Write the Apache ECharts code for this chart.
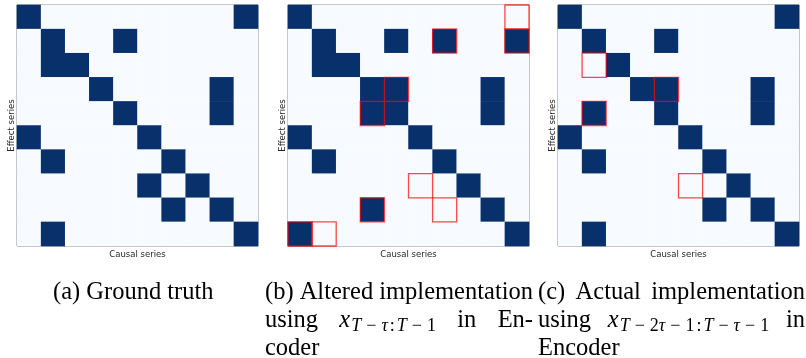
<!DOCTYPE html>
<html>
<head>
<meta charset="utf-8">
<script src="https://cdn.jsdelivr.net/npm/echarts@6/dist/echarts.min.js"></script>
<style>
  html, body { margin: 0; padding: 0; background: #ffffff; }
  #chart { width: 806px; height: 358px; }
</style>
</head>
<body>
<div id="chart"></div>
<script>
// Series indices shared by both axes (10 time series)
const seriesIds = ['0', '1', '2', '3', '4', '5', '6', '7', '8', '9'];

// Causal adjacency matrices: row = effect series, column = causal series
const groundTruth = [
  [1,0,0,0,0,0,0,0,0,1],
  [0,1,0,0,1,0,0,0,0,0],
  [0,1,1,0,0,0,0,0,0,0],
  [0,0,0,1,0,0,0,0,1,0],
  [0,0,0,0,1,0,0,0,1,0],
  [1,0,0,0,0,1,0,0,0,0],
  [0,1,0,0,0,0,1,0,0,0],
  [0,0,0,0,0,1,0,1,0,0],
  [0,0,0,0,0,0,1,0,1,0],
  [0,1,0,0,0,0,0,0,0,1]
];
const alteredResult = [
  [1,0,0,0,0,0,0,0,0,0],
  [0,1,0,0,1,0,1,0,0,1],
  [0,1,1,0,0,0,0,0,0,0],
  [0,0,0,1,1,0,0,0,1,0],
  [0,0,0,1,1,0,0,0,1,0],
  [1,0,0,0,0,1,0,0,0,0],
  [0,1,0,0,0,0,1,0,0,0],
  [0,0,0,0,0,0,0,1,0,0],
  [0,0,0,1,0,0,0,0,1,0],
  [1,0,0,0,0,0,0,0,0,1]
];
const actualResult = [
  [1,0,0,0,0,0,0,0,0,1],
  [0,1,0,0,1,0,0,0,0,0],
  [0,0,1,0,0,0,0,0,0,0],
  [0,0,0,1,1,0,0,0,1,0],
  [0,1,0,0,1,0,0,0,1,0],
  [1,0,0,0,0,1,0,0,0,0],
  [0,1,0,0,0,0,1,0,0,0],
  [0,0,0,0,0,0,0,1,0,0],
  [0,0,0,0,0,0,1,0,1,0],
  [0,1,0,0,0,0,0,0,0,1]
];

// Cells that differ from the ground truth, as [row, column]
const alteredErrors = [[0,9],[1,6],[1,9],[3,4],[4,3],[7,5],[8,3],[8,6],[9,0],[9,1]];
const actualErrors = [[2,1],[3,4],[4,1],[7,5]];

const panels = [
  { matrix: groundTruth, errors: [] },
  { matrix: alteredResult, errors: alteredErrors },
  { matrix: actualResult, errors: actualErrors }
];

const panelLeft = [17, 288, 558];
const panelTop = 5;
const panelSize = 241;

const LIGHT = '#f7fbff';
const DARK = '#08306b';
const EDGE = 'rgba(255, 0, 0, 0.72)';
const SANS = "'DejaVu Sans', sans-serif";
const SERIF = "'Liberation Serif', 'Times New Roman', serif";

const grids = [], xAxes = [], yAxes = [], series = [];
panels.forEach((p, i) => {
  grids.push({
    left: panelLeft[i], top: panelTop, width: panelSize, height: panelSize,
    show: true, borderColor: '#707070', borderWidth: 1, backgroundColor: 'transparent',
    outerBoundsMode: 'none', containLabel: false
  });
  xAxes.push({
    type: 'category', gridIndex: i, data: seriesIds,
    axisLine: { show: false }, axisTick: { show: false }, axisLabel: { show: false },
    splitLine: { show: false },
    name: 'Causal series', nameLocation: 'middle', nameGap: 4,
    nameTextStyle: { fontFamily: SANS, fontSize: 8.5, color: '#262626' }
  });
  yAxes.push({
    type: 'category', gridIndex: i, data: seriesIds, inverse: true,
    axisLine: { show: false }, axisTick: { show: false }, axisLabel: { show: false },
    splitLine: { show: false },
    name: 'Effect series', nameLocation: 'middle', nameGap: 1, nameRotate: 90,
    nameTextStyle: { fontFamily: SANS, fontSize: 8.5, color: '#262626' }
  });
  const cells = [];
  p.matrix.forEach((row, r) => row.forEach((v, c) => cells.push([c, r, v])));
  series.push({
    type: 'heatmap', xAxisIndex: i, yAxisIndex: i, data: cells,
    itemStyle: { borderWidth: 0 }, emphasis: { disabled: true }, z: 1
  });
});

// Red outlines marking the cells that differ from the ground truth
panels.forEach((p, i) => {
  if (!p.errors.length) return;
  series.push({
    type: 'custom', xAxisIndex: i, yAxisIndex: i, z: 5, silent: true,
    data: p.errors.map(([r, c]) => [c, r]),
    encode: { x: 0, y: 1 },
    renderItem: (params, api) => {
      const center = api.coord([api.value(0), api.value(1)]);
      const size = api.size([1, 1]);
      return {
        type: 'rect',
        shape: { x: center[0] - size[0] / 2, y: center[1] - size[1] / 2, width: size[0], height: size[1] },
        style: { fill: 'none', stroke: EDGE, lineWidth: 1.3 }
      };
    }
  });
});

// ---- Sub-captions (justified lines, Times-like serif) ----
const CAP_SIZE = 24.5;
const SUB_SIZE = 18;
const OP_PAD = 5;
const REL_PAD = 2;
const measureCtx = document.createElement('canvas').getContext('2d');
function textWidth(text, font) { measureCtx.font = font; return measureCtx.measureText(text).width; }

const capFont = CAP_SIZE + 'px ' + SERIF;
const mathFont = 'italic ' + CAP_SIZE + 'px ' + SERIF;
const subItalic = 'italic ' + SUB_SIZE + 'px ' + SERIF;
const subUpright = SUB_SIZE + 'px ' + SERIF;

// subscript tokens: [text, kind] with kind i = italic symbol, r = upright, o = binary operator, c = colon
const subscriptB = [['T','i'],['−','o'],['τ','i'],[':','c'],['T','i'],['−','o'],['1','r']];
const subscriptC = [['T','i'],['−','o'],['2','r'],['τ','i'],['−','o'],['1','r'],[':','c'],
                    ['T','i'],['−','o'],['τ','i'],['−','o'],['1','r']];

function tokenWidth(t) {
  if (t[1] === 'i') return textWidth(t[0], subItalic);
  if (t[1] === 'o') return textWidth(t[0], subUpright) + 2 * OP_PAD;
  if (t[1] === 'c') return textWidth(t[0], subUpright) + 2 * REL_PAD;
  return textWidth(t[0], subUpright);
}
function wordWidth(w) {
  if (typeof w === 'string') return textWidth(w, capFont);
  return textWidth('x', mathFont) + 1 + w.sub.reduce((s, t) => s + tokenWidth(t), 0);
}

const graphics = [];
function place(w, x, baseline) {
  const mid = baseline - 0.3 * CAP_SIZE;
  if (typeof w === 'string') {
    graphics.push({ type: 'text', x: x, y: mid,
      style: { text: w, font: capFont, fill: '#000', align: 'left', verticalAlign: 'middle' } });
    return;
  }
  graphics.push({ type: 'text', x: x, y: mid,
    style: { text: 'x', font: mathFont, fill: '#000', align: 'left', verticalAlign: 'middle' } });
  const rich = {
    i: { font: subItalic, fill: '#000' },
    r: { font: subUpright, fill: '#000' },
    o: { font: subUpright, fill: '#000', padding: [0, OP_PAD, 0, OP_PAD] },
    c: { font: subUpright, fill: '#000', padding: [0, REL_PAD, 0, REL_PAD] }
  };
  const text = w.sub.map(t => '{' + t[1] + '|' + t[0] + '}').join('');
  graphics.push({ type: 'text', x: x + textWidth('x', mathFont) + 1, y: baseline + 4 - 0.3 * SUB_SIZE,
    style: { text: text, rich: rich, fill: '#000', align: 'left', verticalAlign: 'middle' } });
}
function justify(words, left, right, baseline) {
  const total = words.reduce((s, w) => s + wordWidth(w), 0);
  const gap = words.length > 1 ? (right - left - total) / (words.length - 1) : 0;
  let x = left;
  words.forEach(w => { place(w, x, baseline); x += wordWidth(w) + gap; });
}

const LINE1 = 300, LINE2 = 328, LINE3 = 356;
place('(a) Ground truth', 53, LINE1);
justify(['(b)', 'Altered', 'implementation'], 265, 533, LINE1);
justify(['using', { sub: subscriptB }, 'in', 'En-'], 265, 533, LINE2);
place('coder', 265, LINE3);
justify(['(c)', 'Actual', 'implementation'], 538, 805, LINE1);
justify(['using', { sub: subscriptC }, 'in'], 538, 805, LINE2);
place('Encoder', 538, LINE3);

const chart = echarts.init(document.getElementById('chart'), null, { renderer: 'canvas' });
chart.setOption({
  animation: false,
  backgroundColor: '#ffffff',
  grid: grids,
  xAxis: xAxes,
  yAxis: yAxes,
  visualMap: {
    type: 'piecewise', show: false, seriesIndex: [0, 1, 2], dimension: 2,
    pieces: [{ value: 0, color: LIGHT }, { value: 1, color: DARK }]
  },
  series: series,
  graphic: graphics
});
</script>
</body>
</html>
